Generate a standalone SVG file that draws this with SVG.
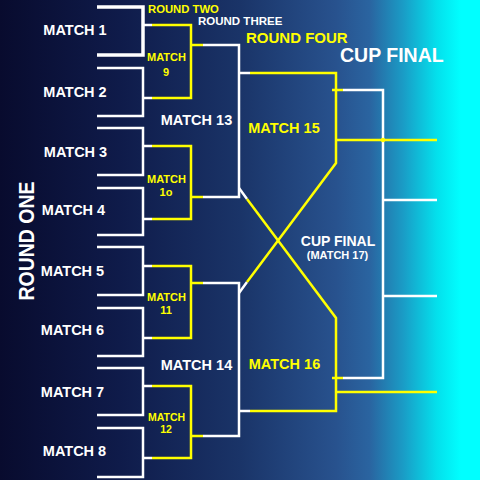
<svg xmlns="http://www.w3.org/2000/svg" width="480" height="480" viewBox="0 0 480 480">
<defs>
<linearGradient id="bg" x1="0" y1="0" x2="1" y2="0">
<stop offset="0" stop-color="#080b2e"/>
<stop offset="0.25" stop-color="#0f1b4a"/>
<stop offset="0.5" stop-color="#1a3468"/>
<stop offset="0.7" stop-color="#28528e"/>
<stop offset="0.77" stop-color="#2a64a0"/>
<stop offset="0.84" stop-color="#1a9cc6"/>
<stop offset="0.91" stop-color="#04e0ec"/>
<stop offset="0.96" stop-color="#00ffff"/>
<stop offset="1" stop-color="#00ffff"/>
</linearGradient>
<style>
.w{fill:none;stroke:#ffffff;stroke-width:2.5}
.y{fill:none;stroke:#ffff00;stroke-width:2.5}
text{font-family:"Liberation Sans",Arial,sans-serif;font-weight:bold}
.m{fill:#ffffff;font-size:14.5px;text-anchor:middle}
.ys{fill:#ffff00;font-size:11px;text-anchor:middle}
.ym{fill:#ffff00;font-size:14.5px;text-anchor:middle}
</style>
</defs>
<rect x="0" y="0" width="480" height="480" fill="url(#bg)"/>

<g id="connectors">
<path class="w" d="M97,7 H143 V55 H97" style="stroke-width:3.5"/>
<path class="w" d="M97,68 H143 V116 H97"/>
<path class="w" d="M97,128 H143 V175 H97"/>
<path class="w" d="M97,188 H143 V235 H97"/>
<path class="w" d="M97,247 H143 V295 H97"/>
<path class="w" d="M97,308 H143 V356 H97"/>
<path class="w" d="M97,368 H143 V415 H97"/>
<path class="w" d="M97,428 H143 V477 H97"/>
<path class="w" d="M143,25 H152 M143,98 H152 M143,146 H152 M143,219 H152 M143,266 H152 M143,338 H152 M143,386 H152 M143,458 H152"/>
<path class="y" d="M152,25 H191 V98 H152"/>
<path class="y" d="M152,146 H191 V219 H152"/>
<path class="y" d="M152,266 H191 V338 H152"/>
<path class="y" d="M152,386 H191 V458 H152"/>
<path class="y" d="M191,45 H203 M191,197 H203 M191,283 H203 M191,436 H203"/>
<path class="w" d="M203,45 H239 V197 H203"/>
<path class="w" d="M203,283 H239 V436 H203"/>
<path class="w" d="M239,73 H250 M239,411 H250 M239,188 L247,199 M239,293 L247,282"/>
<path class="y" d="M250,73 H336 V163 L247,282"/>
<path class="y" d="M247,199 L336,318 V411 H250"/>
<path class="y" d="M332,90 H343 M332,378 H343"/>
<path class="w" d="M343,90 H383 V378 H343"/>
<path class="y" d="M336,140 H437 M336,392 H437"/>
<circle cx="383" cy="140" r="2.2" fill="#ffff00"/>
<path class="w" d="M383,200 H437 M383,296 H437"/>
</g>

<g id="round-labels">
<text x="148" y="13" style="fill:#ffff00;font-size:11.3px">ROUND TWO</text>
<text x="198" y="25" style="fill:#ffffff;font-size:11.5px">ROUND THREE</text>
<text x="246" y="43" style="fill:#ffff00;font-size:15px">ROUND FOUR</text>
<text x="340" y="62" style="fill:#ffffff;font-size:19.5px">CUP FINAL</text>
<text transform="translate(34,241) rotate(-90)" text-anchor="middle" textLength="119" lengthAdjust="spacingAndGlyphs" style="fill:#ffffff;font-size:22px">ROUND ONE</text>
</g>

<g id="match1"><text class="m" x="75" y="35">MATCH 1</text></g>
<g id="match2"><text class="m" x="75" y="97">MATCH 2</text></g>
<g id="match3"><text class="m" x="75.5" y="157">MATCH 3</text></g>
<g id="match4"><text class="m" x="73.5" y="215">MATCH 4</text></g>
<g id="match5"><text class="m" x="72.5" y="276">MATCH 5</text></g>
<g id="match6"><text class="m" x="72.5" y="335">MATCH 6</text></g>
<g id="match7"><text class="m" x="72.5" y="397">MATCH 7</text></g>
<g id="match8"><text class="m" x="74.5" y="456">MATCH 8</text></g>

<g id="match9"><text class="ys" x="166.5" y="61">MATCH</text><text class="ys" x="166" y="76">9</text></g>
<g id="match10"><text class="ys" x="166.5" y="183">MATCH</text><text class="ys" x="166" y="196">1o</text></g>
<g id="match11"><text class="ys" x="166.5" y="301">MATCH</text><text class="ys" x="166" y="314">11</text></g>
<g id="match12"><text class="ys" x="166.5" y="421" style="font-size:10.5px">MATCH</text><text class="ys" x="166" y="433" style="font-size:10.5px">12</text></g>

<g id="match13"><text class="m" x="196.5" y="125">MATCH 13</text></g>
<g id="match14"><text class="m" x="196.5" y="370">MATCH 14</text></g>

<g id="match15"><text class="ym" x="284" y="133">MATCH 15</text></g>
<g id="match16"><text class="ym" x="284.5" y="369">MATCH 16</text></g>

<g id="match17">
<text x="338" y="246" text-anchor="middle" style="fill:#ffffff;font-size:14px">CUP FINAL</text>
<text x="337.5" y="259" text-anchor="middle" style="fill:#ffffff;font-size:11px">(MATCH 17)</text>
</g>
</svg>
